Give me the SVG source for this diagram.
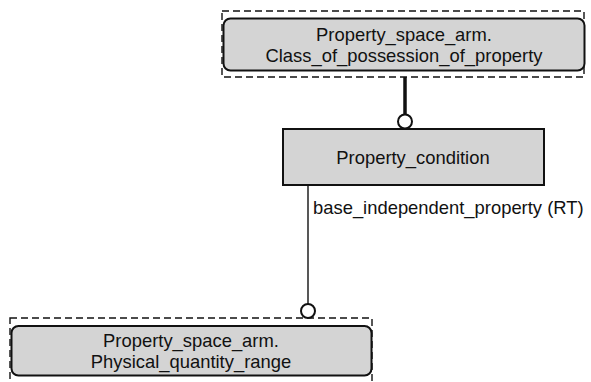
<svg xmlns="http://www.w3.org/2000/svg" width="591" height="382" viewBox="0 0 591 382">
<style>
.t{font-family:"Liberation Sans",Arial,sans-serif;font-size:18.4px;fill:#111;text-anchor:middle}
.lbl{font-family:"Liberation Sans",Arial,sans-serif;font-size:18.4px;fill:#111}
.box{fill:#d4d4d4;stroke:#111;stroke-width:2}
.dash{fill:none;stroke:#111;stroke-width:1.4;stroke-dasharray:7,4}
.thin{fill:none;stroke:#111;stroke-width:1.4}
.thick{fill:none;stroke:#111;stroke-width:3.5}
.circ{fill:#fff;stroke:#111;stroke-width:2}
</style>
<rect width="591" height="382" fill="#fff"/>
<g id="connectors">
<line class="thick" x1="405" y1="77" x2="405" y2="114"/>
<circle class="circ" cx="405" cy="121.5" r="7"/>
<line class="thin" x1="308" y1="185" x2="308" y2="304"/>
<circle class="circ" cx="308" cy="311" r="7"/>
<text class="lbl" x="313" y="214">base_independent_property (RT)</text>
</g>
<g id="class_of_possession_of_property">
<rect class="dash" x="222" y="11" width="362" height="66"/>
<rect class="box" x="223.5" y="18.5" width="361" height="52" rx="7"/>
<text class="t" x="404" y="41">Property_space_arm.</text>
<text class="t" x="404" y="62">Class_of_possession_of_property</text>
</g>
<g id="property_condition">
<rect class="box" x="283" y="129" width="261" height="56"/>
<text class="t" x="413" y="164">Property_condition</text>
</g>
<g id="physical_quantity_range">
<rect class="dash" x="10" y="318" width="362" height="70"/>
<rect class="box" x="11.5" y="326" width="360" height="49.5" rx="7"/>
<text class="t" x="191" y="347">Property_space_arm.</text>
<text class="t" x="191" y="368">Physical_quantity_range</text>
</g>
</svg>
